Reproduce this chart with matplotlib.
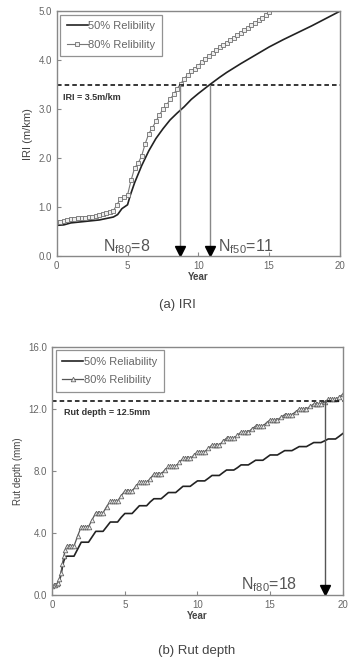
import numpy as np
import matplotlib.pyplot as plt
from matplotlib.ticker import FormatStrFormatter

plt.rcParams['font.family'] = ['Liberation Sans', 'DejaVu Sans']
plt.rcParams['mathtext.fontset'] = 'custom'
plt.rcParams['mathtext.rm'] = 'Liberation Sans'

# (a) IRI data
iri50_year = [0, 0.5, 1, 2, 3, 4, 4.3, 4.6, 5.0, 5.2, 5.5, 6.0, 6.5, 7.0, 7.5, 8.0,
              8.5, 9.0, 9.5, 10, 10.8, 11.5, 12, 13, 14, 15, 16, 17, 18, 19, 20]
iri50 = [0.63, 0.64, 0.68, 0.71, 0.74, 0.80, 0.85, 0.97, 1.05, 1.25, 1.50, 1.85,
         2.15, 2.40, 2.60, 2.78, 2.92, 3.05, 3.20, 3.32, 3.50, 3.65, 3.75, 3.93,
         4.10, 4.27, 4.42, 4.56, 4.70, 4.85, 5.00]
iri80_year = [i * 0.25 for i in range(61)]
iri80 = [0.70, 0.70, 0.71, 0.73, 0.75, 0.76, 0.77, 0.78, 0.79, 0.80, 0.81, 0.82,
         0.84, 0.86, 0.88, 0.90, 0.93, 1.05, 1.17, 1.20, 1.25, 1.55, 1.80, 1.90,
         2.05, 2.30, 2.50, 2.62, 2.75, 2.88, 3.00, 3.08, 3.20, 3.30, 3.42, 3.52,
         3.62, 3.70, 3.77, 3.83, 3.89, 3.96, 4.03, 4.09, 4.15, 4.20, 4.26, 4.31,
         4.36, 4.41, 4.46, 4.51, 4.56, 4.61, 4.66, 4.71, 4.76, 4.81, 4.86, 4.92, 4.98]
iri_limit = 3.5
nf80_iri = 8.7
nf50_iri = 10.8

# (b) Rut depth data: first-year values, then a plateau value per year
# and the value halfway up each yearly rise
rut_start_year = [0, 0.1, 0.2, 0.3, 0.4, 0.5, 0.6, 0.7, 0.8, 0.9]
rut50_start = [0.55, 0.57, 0.60, 0.65, 0.75, 0.90, 1.30, 1.80, 2.20, 2.40]
rut80_start = [0.60, 0.62, 0.65, 0.70, 0.80, 1.00, 1.40, 2.00, 2.50, 2.90]
rut_years = list(range(1, 21))
rut50 = [2.5, 3.4, 4.1, 4.7, 5.25, 5.75, 6.2, 6.6, 7.0, 7.35, 7.7, 8.05, 8.38,
         8.68, 9.02, 9.3, 9.56, 9.82, 10.05, 10.4]
rut50_mid = [2.95, 3.75, 4.4, 5.0, 5.5, 6.0, 6.4, 6.8, 7.18, 7.52, 7.88, 8.2,
             8.53, 8.85, 9.16, 9.43, 9.69, 9.93, 10.22]
rut80 = [3.15, 4.4, 5.3, 6.05, 6.7, 7.25, 7.8, 8.28, 8.8, 9.24, 9.66, 10.1, 10.5,
         10.88, 11.28, 11.62, 11.98, 12.3, 12.6, 12.93]
rut80_mid = [3.8, 4.85, 5.7, 6.4, 7.0, 7.5, 8.05, 8.55, 9.0, 9.45, 9.9, 10.3,
             10.7, 11.1, 11.45, 11.8, 12.15, 12.45, 12.75]
rut_limit = 12.5
nf80_rut = 18.8

GRAY = '#666666'


def stairs(start_x, start_y, years, vals, mids):
    xs, ys = list(start_x), list(start_y)
    for i, (k, v) in enumerate(zip(years, vals)):
        if i == len(years) - 1:
            xs.append(k)
            ys.append(v)
            break
        for off in (0, 0.125, 0.25, 0.375, 0.5):
            xs.append(k + off)
            ys.append(v)
        xs.append(k + 0.75)
        ys.append(mids[i])
    return xs, ys


def style_axes(ax):
    for s in ax.spines.values():
        s.set_color('#888888')
        s.set_linewidth(1.0)
    ax.tick_params(direction='in', length=3, width=0.8, colors='#888888',
                   labelcolor=GRAY, labelsize=7)
    ax.yaxis.set_major_formatter(FormatStrFormatter('%.1f'))
    ax.set_xlabel('Year', fontsize=7, fontweight='bold', color='#444444', labelpad=1)


def add_legend(ax):
    leg = ax.legend(loc='upper left', fontsize=8, frameon=True, fancybox=False,
                    edgecolor='#777777', handlelength=1.9, handletextpad=0.05,
                    borderpad=0.6, labelspacing=0.75, borderaxespad=0.3)
    for t in leg.get_texts():
        t.set_color(GRAY)
    leg.get_frame().set_linewidth(0.9)


fig = plt.figure(figsize=(3.48, 6.57), dpi=100)

# ---- (a) IRI
ax1 = fig.add_axes([0.163, 0.610, 0.814, 0.373])
ax1.plot(iri50_year, iri50, color='#222222', lw=1.2, label='50% Relibility')
ax1.plot(iri80_year, iri80, color='#777777', lw=0.8, marker='s', ms=3.5,
         mfc='#eeeeee', mec='#707070', mew=0.6, label='80% Relibility')
ax1.axhline(iri_limit, color='black', lw=1.1, ls=(0, (3, 2)))
ax1.text(0.45, 3.23, 'IRI = 3.5m/km', fontsize=6.5, fontweight='bold',
         color='#333333', va='center')
for xv in (nf80_iri, nf50_iri):
    ax1.plot([xv, xv], [iri_limit, 0.1], color='#888888', lw=1.0)
    ax1.plot(xv, 0.1, marker='v', ms=6.5, color='black', clip_on=False)
ax1.text(3.3, 0.2, r'N$_{\mathrm{f80}}$=8', fontsize=11.5, color='#555555', va='center')
ax1.text(11.4, 0.2, r'N$_{\mathrm{f50}}$=11', fontsize=11.5, color='#555555', va='center')
ax1.set_xlim(0, 20)
ax1.set_ylim(0, 5)
ax1.set_xticks([0, 5, 10, 15, 20])
ax1.set_yticks([0, 1, 2, 3, 4, 5])
style_axes(ax1)
ax1.set_ylabel('IRI (m/km)', fontsize=8, color='#444444', labelpad=4)
add_legend(ax1)
fig.text(0.51, 0.536, '(a) IRI', fontsize=9.5, color='#444444', ha='center', va='center')

# ---- (b) Rut depth
ax2 = fig.add_axes([0.150, 0.0944, 0.835, 0.378])
x50, y50 = stairs(rut_start_year, rut50_start, rut_years, rut50, rut50_mid)
x80, y80 = stairs(rut_start_year, rut80_start, rut_years, rut80, rut80_mid)
ax2.plot(x50, y50, color='#222222', lw=1.2, label='50% Reliability')
ax2.plot(x80, y80, color='#555555', lw=0.9, marker='^', ms=3.3,
         mfc='#eeeeee', mec='#666666', mew=0.6, label='80% Relibility')
ax2.axhline(rut_limit, color='black', lw=1.1, ls=(0, (3, 2)))
ax2.text(0.8, 11.75, 'Rut depth = 12.5mm', fontsize=6.5, fontweight='bold',
         color='#333333', va='center')
ax2.plot([nf80_rut, nf80_rut], [rut_limit, 0.3], color='#555555', lw=1.0)
ax2.plot(nf80_rut, 0.3, marker='v', ms=6.5, color='black', clip_on=False)
ax2.text(13.0, 0.65, r'N$_{\mathrm{f80}}$=18', fontsize=11.5, color='#555555', va='center')
ax2.set_xlim(0, 20)
ax2.set_ylim(0, 16)
ax2.set_xticks([0, 5, 10, 15, 20])
ax2.set_yticks([0, 4, 8, 12, 16])
style_axes(ax2)
ax2.set_ylabel('Rut depth (mm)', fontsize=7, color='#444444', labelpad=4)
add_legend(ax2)
fig.text(0.565, 0.009, '(b) Rut depth', fontsize=9.5, color='#444444', ha='center', va='center')

fig.savefig('out.png', dpi=100)
